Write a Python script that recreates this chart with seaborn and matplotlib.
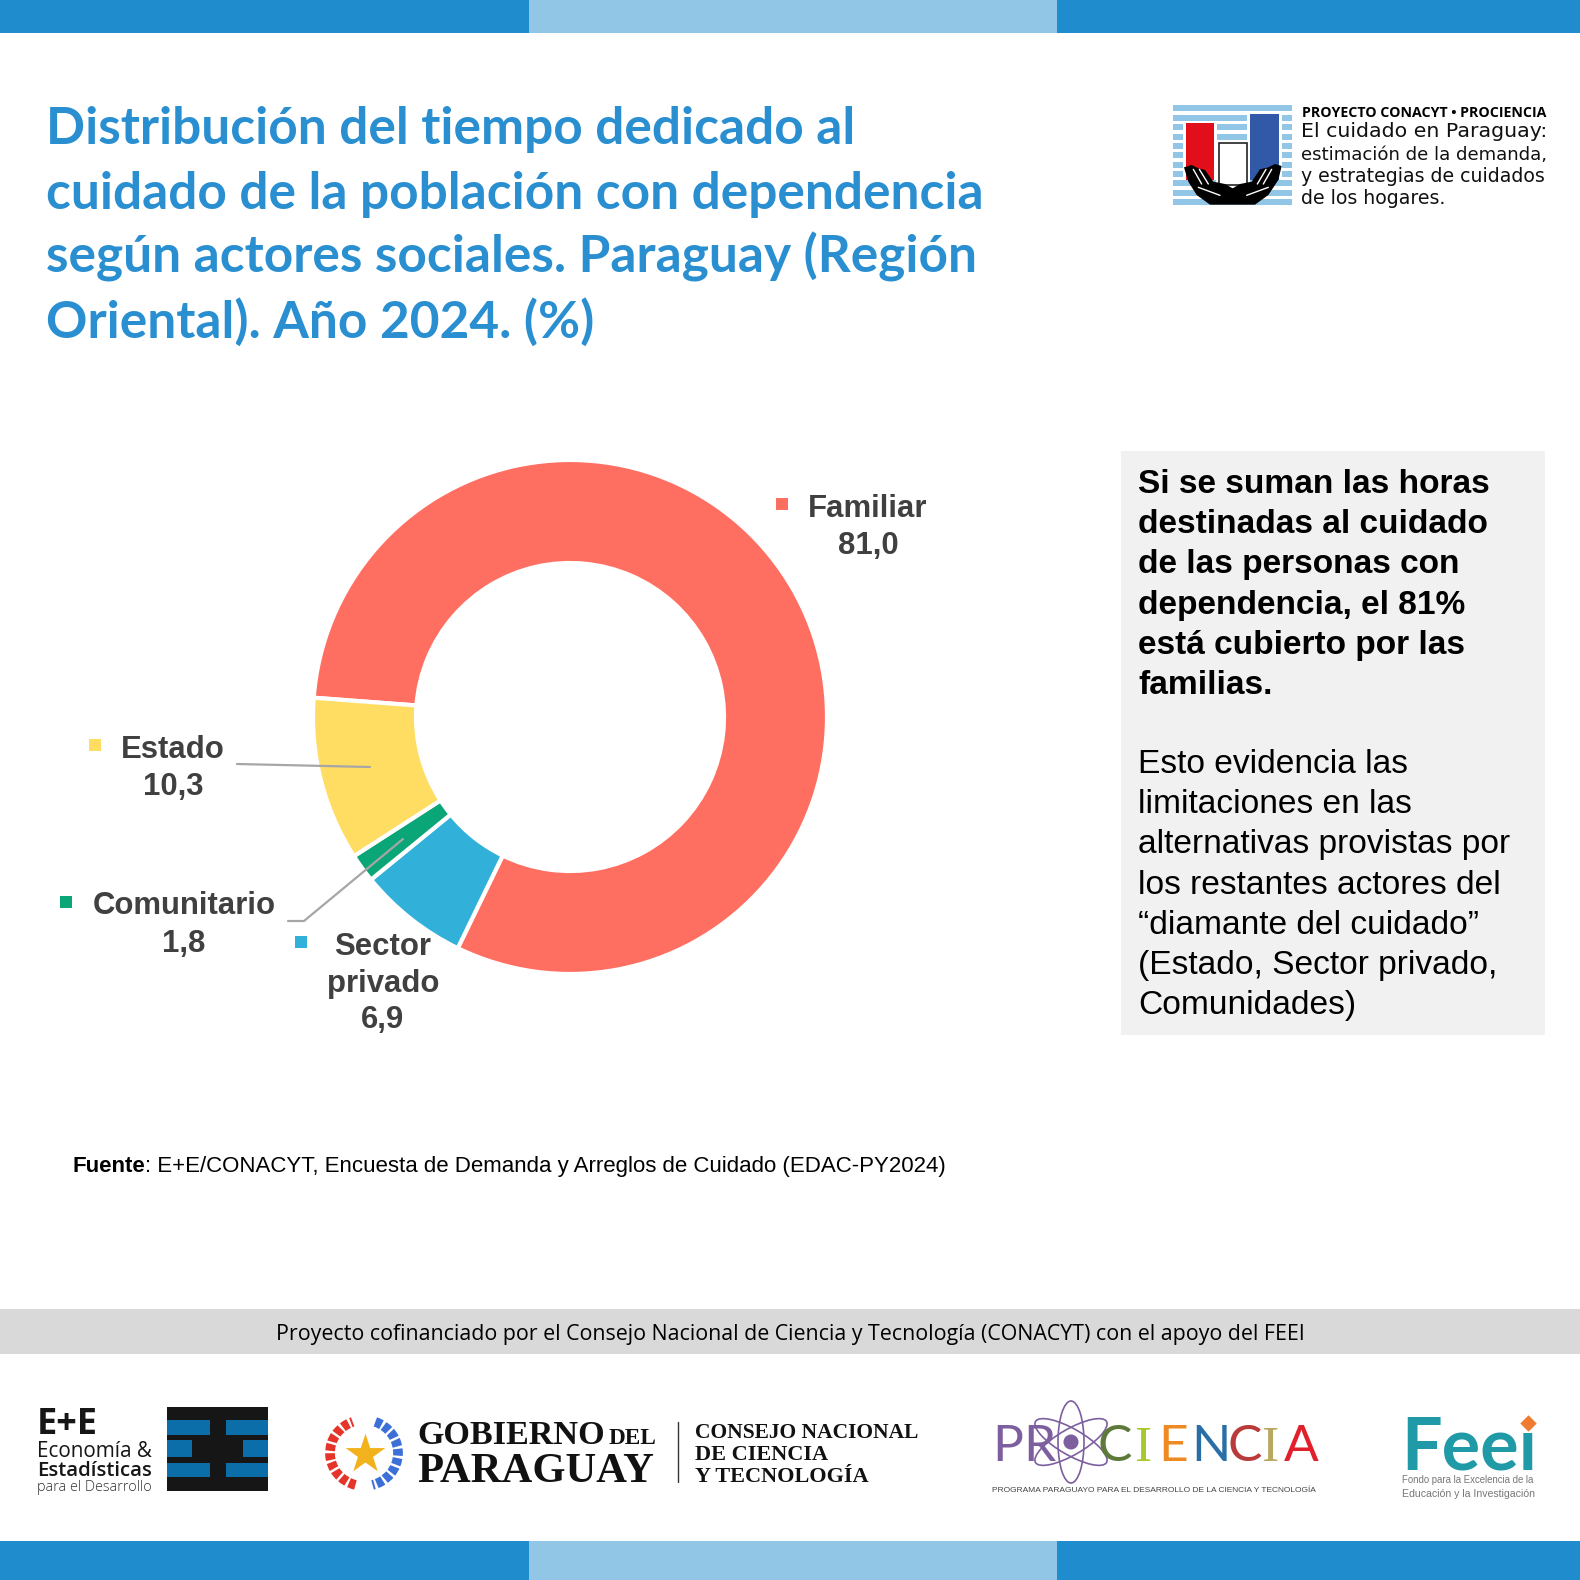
import matplotlib
matplotlib.use("Agg")
import matplotlib.pyplot as plt
from matplotlib.patches import Rectangle, Ellipse, Arc, Polygon
import seaborn as sns

# chart data
categories = ["Familiar", "Sector privado", "Comunitario", "Estado"]
values = [81.0, 6.9, 1.8, 10.3]
value_labels = ["81,0", "6,9", "1,8", "10,3"]
slice_colors = ["#FF6F61", "#31B0D9", "#0BA678", "#FFDD63"]

title_lines = [
    "Distribución del tiempo dedicado al",
    "cuidado de la población con dependencia",
    "según actores sociales. Paraguay (Región",
    "Oriental). Año 2024. (%)",
]
box_bold = [
    "Si se suman las horas",
    "destinadas al cuidado",
    "de las personas con",
    "dependencia, el 81%",
    "está cubierto por las",
    "familias.",
]
box_regular = [
    "Esto evidencia las",
    "limitaciones en las",
    "alternativas provistas por",
    "los restantes actores del",
    "“diamante del cuidado”",
    "(Estado, Sector privado,",
    "Comunidades)",
]
source_rest = ": E+E/CONACYT, Encuesta de Demanda y Arreglos de Cuidado (EDAC-PY2024)"
band_text = "Proyecto cofinanciado por el Consejo Nacional de Ciencia y Tecnología (CONACYT) con el apoyo del FEEI"

BLUE = "#1F8DCD"
LIGHT_BLUE = "#92C6E7"
LABEL_GREY = "#404040"
SANS = "Liberation Sans"
SERIF = "Liberation Serif"

sns.set_theme(style="white")
fig = plt.figure(figsize=(15.8, 15.8), dpi=100, facecolor="white")

# the donut, in an axes that spans the whole page (y upwards, so 1580 - y)
pie_ax = fig.add_axes([0, 0, 1, 1], frame_on=False)
pie_ax.pie(values, colors=slice_colors, startangle=-184.3, counterclock=False,
           center=(570, 1580 - 717), radius=257,
           wedgeprops={"width": 103, "edgecolor": "white", "linewidth": 3})
pie_ax.set_xlim(0, 1580)
pie_ax.set_ylim(0, 1580)
pie_ax.set_aspect("equal")
pie_ax.axis("off")

# everything else goes on a transparent page axes in pixel coordinates
ax = fig.add_axes([0, 0, 1, 1], frame_on=False)
ax.set_xlim(0, 1580)
ax.set_ylim(1580, 0)
ax.patch.set_alpha(0)
ax.axis("off")
renderer = fig.canvas.get_renderer()


def put(x, y, s, size=20, width=None, **kw):
    kw.setdefault("va", "baseline")
    kw.setdefault("family", SANS)
    t = ax.text(x, y, s, fontsize=size, **kw)
    if width:
        t.set_fontsize(size * width / t.get_window_extent(renderer).width)
    return t


def box(x0, y0, x1, y1, color, **kw):
    ax.add_patch(Rectangle((x0, y0), x1 - x0, y1 - y0, facecolor=color, edgecolor="none", **kw))


# top and bottom bars
for y0, y1 in [(0, 33), (1541, 1580)]:
    box(0, y0, 529, y1, BLUE)
    box(529, y0, 1057, y1, LIGHT_BLUE)
    box(1057, y0, 1580, y1, BLUE)

# title
for i, line in enumerate(title_lines):
    put(46, 144 + i * 64.5, line, size=37, family="Lato", weight="bold", color="#2A8FD0")

# text box on the right
box(1121, 451, 1545, 1035, "#F1F1F1")
for i, line in enumerate(box_bold):
    put(1138, 493 + i * 40.2, line, size=24.1, weight="bold", color="black")
for i, line in enumerate(box_regular):
    put(1138, 773 + i * 40.2, line, size=24.1, color="black")

# direct labels of the donut with their colour squares
label_spots = [
    ("Familiar", (782, 504), 868, [517, 554], value_labels[0], slice_colors[0]),
    ("Sector\nprivado", (301, 942), 383, [955, 992, 1028], value_labels[1], slice_colors[1]),
    ("Comunitario", (66, 902), 184, [914, 952], value_labels[2], slice_colors[2]),
    ("Estado", (95, 745), 173, [758, 795], value_labels[3], slice_colors[3]),
]
for name, square, xc, baselines, val, col in label_spots:
    box(square[0] - 6, square[1] - 6, square[0] + 6, square[1] + 6, col)
    rows = name.split("\n") + [val]
    for row, yb in zip(rows, baselines):
        put(xc, yb, row, size=22.4, weight="bold", ha="center", color=LABEL_GREY)

# leader lines
ax.plot([237, 370], [764, 767], color="#A6A6A6", lw=1.6)
ax.plot([288, 304, 403], [921, 921, 839], color="#A6A6A6", lw=1.6)

# source
src = put(72.5, 1172, "Fuente", size=16.05, weight="bold", color="black")
put(src.get_window_extent(renderer).x1, 1172, source_rest, size=16.05, color="black")

# grey band
box(0, 1309, 1580, 1354, "#D9D9D9")
put(790, 1340, band_text, size=16.5, width=1030, family="Open Sans", ha="center", color="black")


def lx(v):
    return 1140 + v / 3


def ly(v):
    return 80 + v / 3


for top in [75, 105, 133, 161, 189, 217, 245, 273, 301, 329, 357]:
    box(lx(100), ly(top), lx(455), ly(top + 18), LIGHT_BLUE)
box(lx(130), ly(122), lx(230), ly(300), "white")
box(lx(322), ly(95), lx(425), ly(300), "white")
box(lx(228), ly(180), lx(330), ly(320), "white")
box(lx(138), ly(130), lx(222), ly(300), "#E20E1A")
box(lx(330), ly(102), lx(416), ly(300), "#3159A8")
ax.add_patch(Rectangle((lx(237), ly(189)), lx(321) - lx(237), ly(315) - ly(189),
                       facecolor="white", edgecolor="#222222", lw=1.2))
hands = [(132, 262), (155, 255), (175, 265), (195, 270), (220, 305), (255, 312), (278, 325),
         (300, 312), (335, 305), (360, 268), (385, 262), (405, 252), (425, 258), (415, 300),
         (385, 345), (345, 374), (210, 374), (170, 345), (145, 305)]
ax.add_patch(Polygon([(lx(a), ly(b)) for a, b in hands], facecolor="black", edgecolor="none"))
for seg in [[(160, 268), (185, 312)], [(178, 268), (205, 312)], [(395, 268), (370, 312)],
            [(378, 268), (352, 312)], [(175, 322), (240, 346)], [(385, 322), (320, 346)]]:
    ax.plot([lx(p[0]) for p in seg], [ly(p[1]) for p in seg], color="white", lw=1)

put(1302, 117, "PROYECTO CONACYT • PROCIENCIA", size=11, width=243, family="Open Sans", weight="bold", color="black")
put(1301, 137, "El cuidado en Paraguay:", size=13, width=246, family="DejaVu Sans", color="#111111")
put(1301, 160, "estimación de la demanda,", size=13, width=246, family="DejaVu Sans", color="#111111")
put(1301, 182, "y estrategias de cuidados", size=13, width=243, family="DejaVu Sans", color="#111111")
put(1301, 204, "de los hogares.", size=13, width=144, family="DejaVu Sans", color="#111111")

# E+E logo
box(167, 1407, 268, 1491, "#161616")
for y0, y1, xa, xb in [(1420, 1435, 210, 226), (1440, 1457, 192, 243), (1463, 1477, 210, 226)]:
    box(167, y0, xa, y1, "#0B6EA8")
    box(xb, y0, 268, y1, "#0B6EA8")
put(37, 1434, "E+E", size=22, width=61, family="Open Sans", weight="bold", color="#161616")
put(37, 1457, "Economía &", size=15, width=115, family="Open Sans", color="#161616")
put(37, 1476, "Estadísticas", size=15, width=115, family="Open Sans", weight="semibold", color="#161616")
put(37, 1491, "para el Desarrollo", size=10, width=115, family="Open Sans", weight="light", color="#333333")

# Gobierno del Paraguay logo
ax.add_patch(Arc((364, 1453), 68, 66, theta1=105, theta2=250, color="#E5352B", lw=7, ls=(0, (0.7, 0.25))))
ax.add_patch(Arc((364, 1453), 68, 66, theta1=-70, theta2=75, color="#3C6FD8", lw=7, ls=(0, (0.7, 0.25))))
ax.scatter([365], [1454], marker="*", s=900, color="#F2B21C", linewidths=0)
put(417, 1444, "GOBIERNO", size=26, width=188, family=SERIF, weight="bold", color="#111111")
put(609, 1444, "DEL", size=14, width=48, family=SERIF, weight="bold", color="#111111")
put(417, 1482, "PARAGUAY", size=30, width=236, family=SERIF, weight="bold", color="#111111")
ax.plot([677.5, 677.5], [1422, 1482], color="#333333", lw=1)
put(695, 1438, "CONSEJO NACIONAL", size=16, width=225, family=SERIF, weight="bold", color="#111111")
put(695, 1460, "DE CIENCIA", size=16, family=SERIF, weight="bold", color="#111111")
put(695, 1482, "Y TECNOLOGÍA", size=16, family=SERIF, weight="bold", color="#111111")

# Prociencia logo
for letter, x, col, fam in [("P", 992, "#7D5FA0", "Lato"), ("R", 1023, "#7D5FA0", "Lato"),
                            ("C", 1097, "#5E7A3A", "Lato"), ("I", 1134, "#A8C82C", SERIF),
                            ("E", 1158, "#EE8A22", "Lato"), ("N", 1191, "#2A6EA8", "Lato"),
                            ("C", 1227, "#B83A3A", "Lato"), ("I", 1261, "#B8A860", SERIF),
                            ("A", 1284, "#E0202A", "Lato")]:
    put(x, 1461, letter, size=37, family=fam, color=col)
for angle in [90, 30, 150]:
    ax.add_patch(Ellipse((1071, 1442), 82, 26, angle=angle, fill=False, edgecolor="#7D5FA0", lw=1.2))
ax.add_patch(Ellipse((1071, 1442), 15, 15, facecolor="#7D5FA0", edgecolor="none"))
put(992, 1492, "PROGRAMA PARAGUAYO PARA EL DESARROLLO DE LA CIENCIA Y TECNOLOGÍA", size=6, width=324, color="#444444")

# FEEI logo
put(1401, 1469, "Feeı", size=60, width=136, family="Lato", weight="bold", color="#1F9AA6")
ax.scatter([1528], [1423], marker="D", s=70, color="#EE7B30", linewidths=0)
put(1402, 1483, "Fondo para la Excelencia de la", size=8, width=133, color="#777777")
put(1402, 1497, "Educación y la Investigación", size=8, width=133, color="#777777")

fig.savefig("out.png", dpi=100, facecolor="white")
